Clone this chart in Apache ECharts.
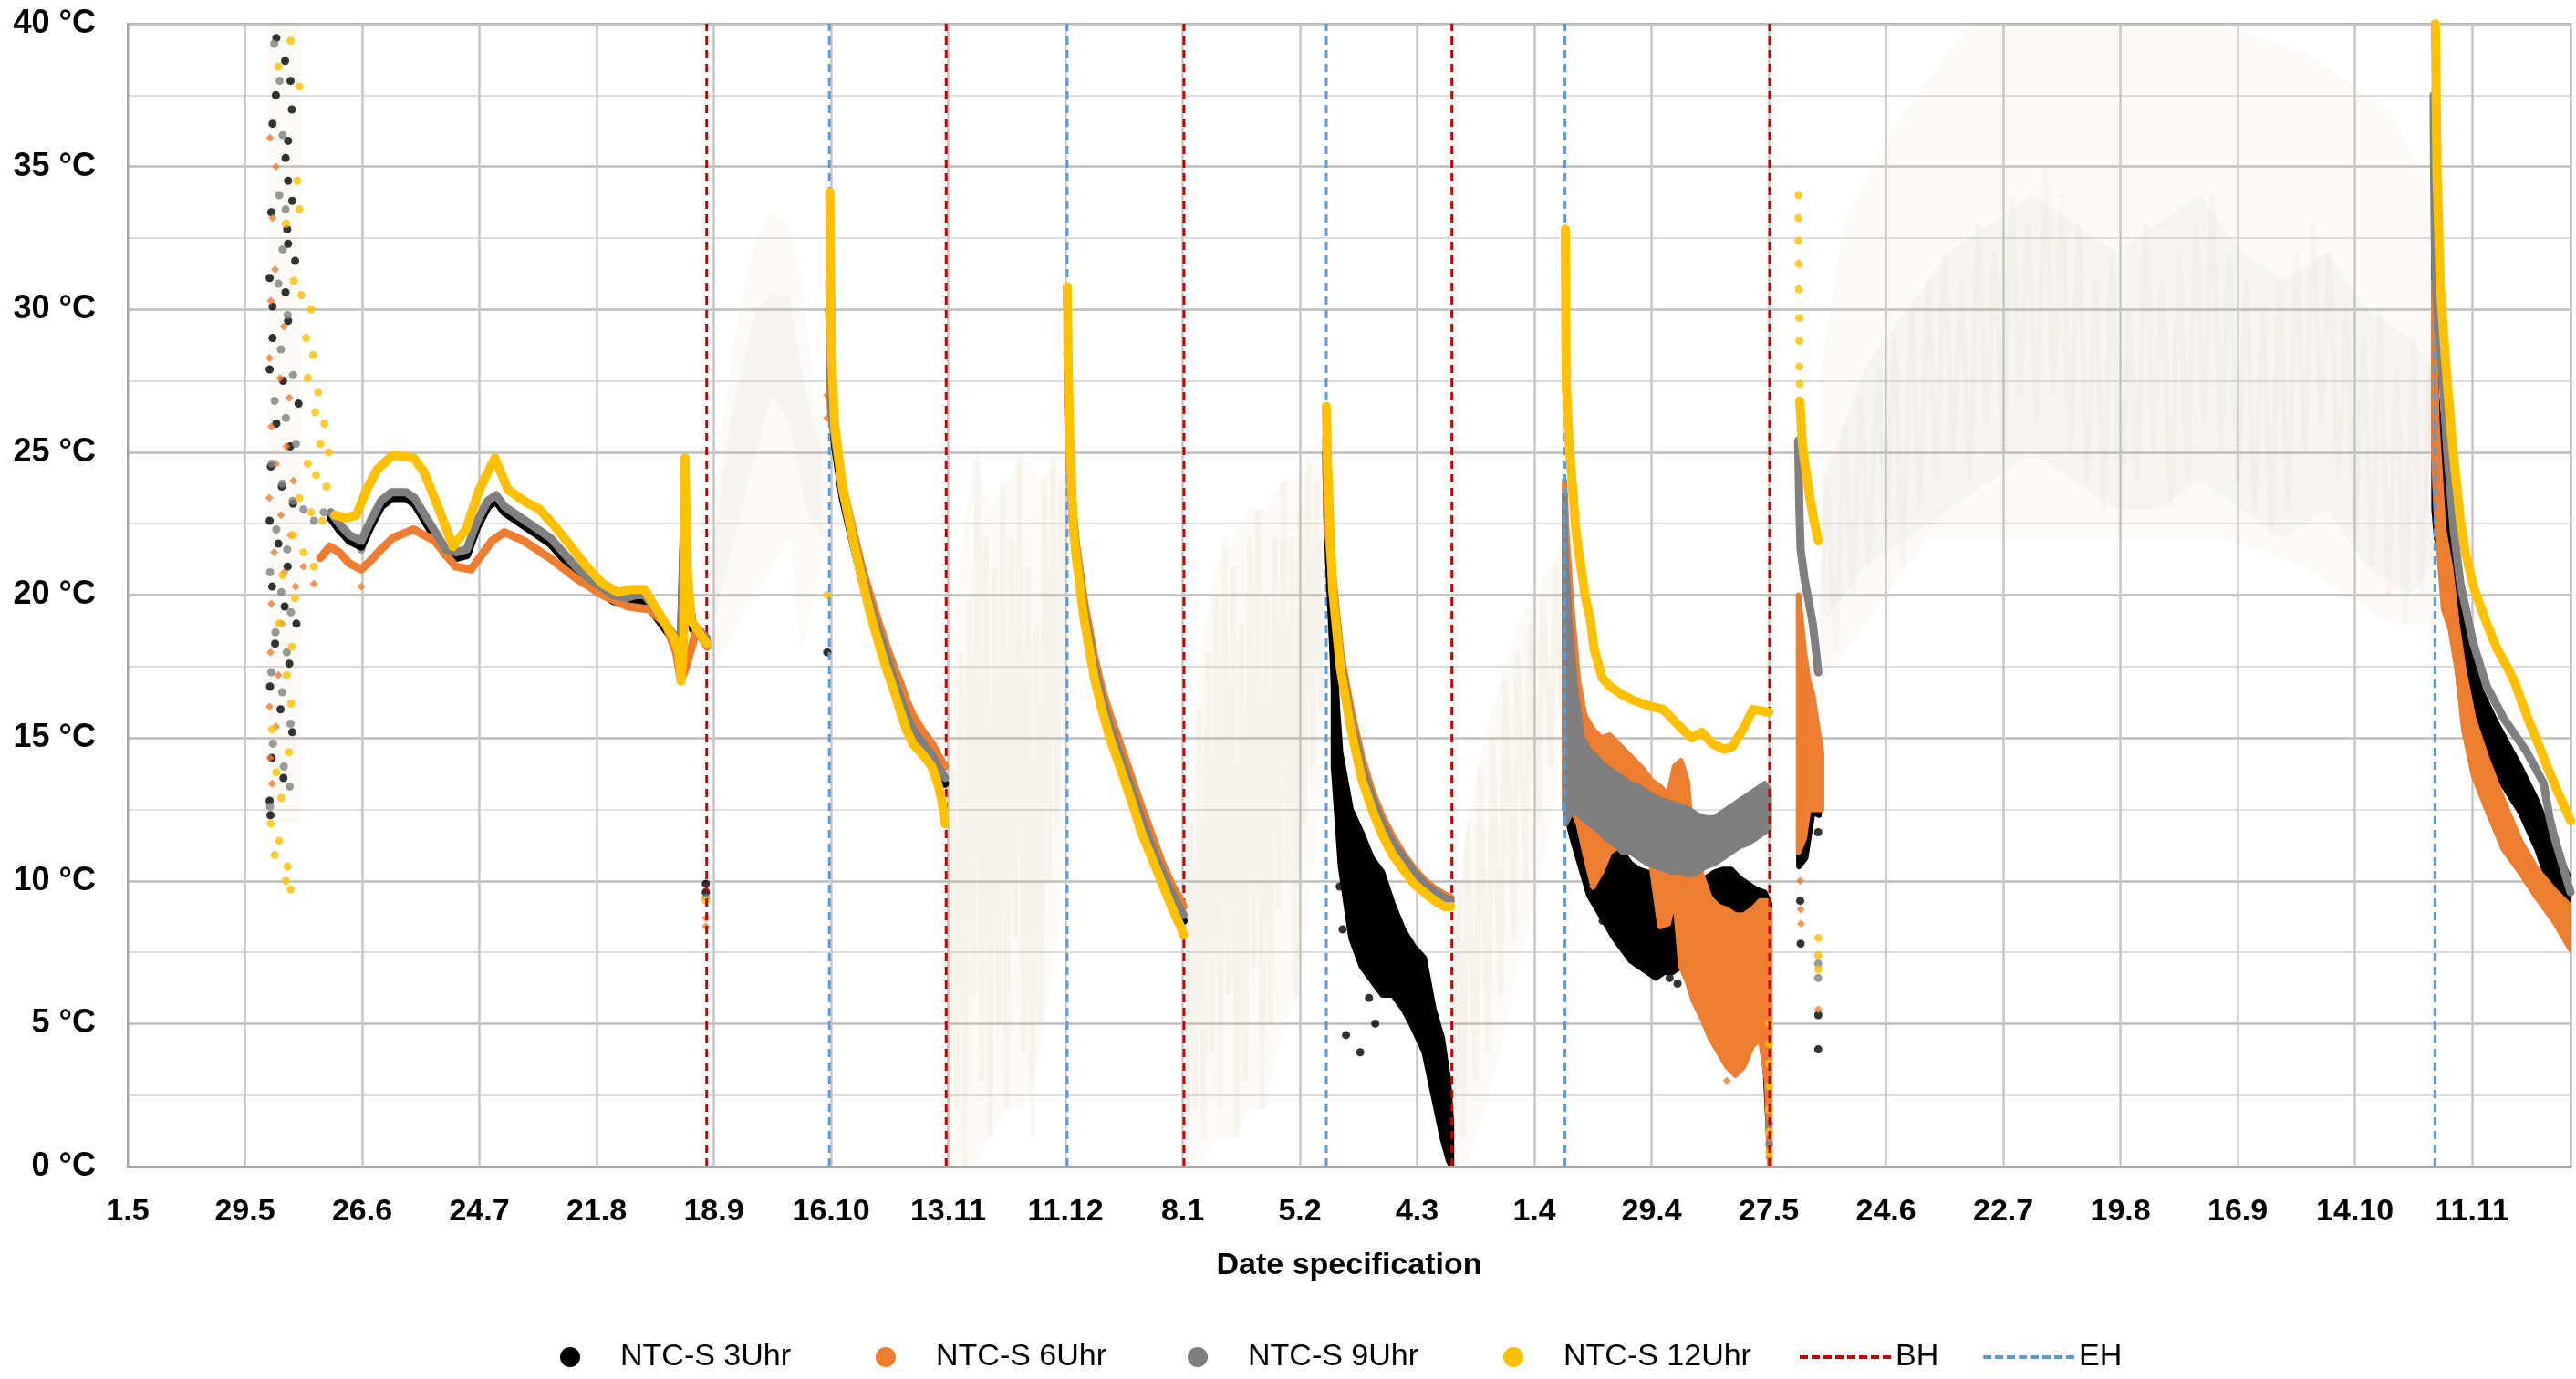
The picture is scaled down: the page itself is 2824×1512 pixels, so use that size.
<!DOCTYPE html>
<html><head><meta charset="utf-8">
<script src="https://cdn.jsdelivr.net/npm/echarts@6/dist/echarts.min.js"></script>
<style>html,body{margin:0;padding:0;background:#fff}#c{width:2824px;height:1512px}</style>
</head><body><div id="c"></div>
<script>
// ---------- axis labels ----------
const tickLabels = ['1.5','29.5','26.6','24.7','21.8','18.9','16.10','13.11','11.12','8.1','5.2','4.3','1.4','29.4','27.5','24.6','22.7','19.8','16.9','14.10','11.11'];
const seriesNames = ['NTC-S 3Uhr','NTC-S 6Uhr','NTC-S 9Uhr','NTC-S 12Uhr'];
// x = days since first tick (1.5), y = °C
const bhDays = [138.3, 195.5, 252.3, 316.3, 392.2];
const ehDays = [167.6, 224.4, 286.3, 343.3, 551.1];

// ---------- NTC-S 3Uhr (black) ----------
const black3Lines = [
 [[48.5,22.7],[50.5,22.3],[53,21.9],[55.8,21.7],[58,22.4],[60.5,23.1],[63,23.4],[66.5,23.4],[68.5,23.2],[71,22.6],[73.5,22.0],[76,21.4],[78.3,21.3],[81,21.4],[83.5,22.4],[86,23.1],[88,23.3],[90,22.9],[93,22.6],[97,22.2],[101,21.8],[104,21.3],[107,20.8],[110,20.4],[113,20.1],[116,19.8],[119,19.7],[121.5,19.8],[123.5,19.8],[125.5,19.4],[128,18.9],[130.5,18.4],[132,17.6],[133,22.8],[133.5,20.3],[135,18.8],[138.3,18.4]],
 [[167.6,30.0],[167.9,27.5],[168.9,25.3],[170.8,23.4],[173.3,21.8],[175.5,20.5],[177.1,19.6],[180.8,17.9],[184.6,16.2],[187.5,15.1],[190,14.6],[192.1,14.2],[195.2,13.4]],
 [[224.5,28.5],[225,25.0],[225.9,22.3],[228.4,19.3],[230.9,17.3],[234.6,15.2],[238.4,13.6],[242.1,12.0],[247.1,10.1],[249.6,9.3],[252.2,8.6]],
 [[286.3,25.0],[286.6,22.5],[287.2,20.5],[288.0,18.0],[288.6,16.0]]
];
const black3Bands = [
 [[288.0,14.0,18.0],[289.7,10.5,14.5],[292.2,8.0,12.5],[294.7,7.0,11.7],[297.2,6.5,10.8],[299.7,6.0,10.3],[302.2,6.0,9.2],[304.7,5.5,8.3],[307.2,4.8,7.7],[309.7,4.0,7.3],[312.0,2.4,5.5],[314.0,1.0,4.5],[315.5,0.2,3.0],[316.2,0.0,1.5]],
 [[343.3,12.5,23.5],[345,11.5,14.5],[347,10.5,13.5],[349,9.5,12.5],[351,9.0,11.8],[353,8.5,11.5],[355,8.0,11.2],[357,7.6,11.0],[359,7.2,10.6],[361,7.0,10.4],[363,6.8,10.3],[365,6.6,10.2],[367,6.8,10.4],[369,6.8,10.6],[371,7.0,10.5],[373,7.5,10.2],[375,8.0,10.1],[377,8.2,10.1],[379,8.5,10.3],[381,8.6,10.4],[383,8.7,10.4],[385,8.5,10.1],[387,8.0,9.9],[389,7.0,9.7],[391,4.0,9.6],[392.2,0.3,9.2]],
 [[399.2,10.5,13.5],[400.8,10.8,13.5],[402.5,12.4,14.5],[404.0,12.3,14.5]],
 [[550.9,23.0,33.0],[551.5,22.0,27.0],[553,21.0,24.5],[555.6,20.0,21.8],[558.8,17.0,18.8],[562,14.8,16.7],[565.9,13.7,15.5],[571.5,12.4,14.0],[575.5,11.1,12.8],[579.5,9.4,11.3],[583.5,9.1,10.0]]
];
const black3Dots = [
 [35.5,39.5],[37.6,38.7],[38.9,38.0],[35.4,37.5],[39.2,37.0],[34.6,36.5],[38.3,35.9],[37.7,35.3],[38.3,34.5],[39.3,33.8],[34.3,33.4],[38.1,32.8],[38.3,32.3],[40.0,31.7],[33.9,31.1],[37.7,30.6],[34.6,30.1],[38.3,29.6],[34.6,29.0],[33.9,27.9],[37.1,27.5],[40.8,26.7],[35.5,26.0],[38.8,25.2],[34.2,24.5],[36.8,23.8],[39.5,23.2],[33.9,22.6],[36.0,21.8],[38.2,21.0],[34.5,20.3],[37.5,19.6],[40.3,19.0],[35.2,18.3],[38.6,17.6],[34.0,16.8],[36.5,16.0],[39.3,15.2],[34.4,14.3],[37.2,13.6],[33.9,12.8],[34.1,12.3],
 [138.1,9.9],[138.1,9.6],[167.1,18.0],[291.0,4.6],[294.4,4.0],[289.5,9.8],[290.2,8.3],[296.5,5.9],[298,5.0],[357.5,8.4],[360,7.6],[362.5,7.0],[368.3,6.6],[370.2,6.4],[352.3,8.6],[399.5,9.3],[399.6,7.8],[403.8,11.7],[403.8,5.3],[403.8,4.1]
];

// ---------- NTC-S 6Uhr (orange) ----------
const orange6Lines = [
 [[46,21.3],[48.3,21.7],[50.5,21.5],[53,21.1],[55.8,20.9],[58,21.2],[60.5,21.6],[63.3,22.0],[68.3,22.3],[73.3,21.9],[78.3,21.0],[82,20.9],[87,21.9],[90,22.2],[94.6,21.9],[100.8,21.3],[107,20.6],[113.4,20.0],[119.6,19.6],[124.6,19.5],[128.4,19.0],[131,18.0],[132.1,17.0],[133.4,17.5],[135.9,18.8],[138.4,18.2]],
 [[167.6,28.0],[167.8,27.0],[168.1,26.3],[168.9,25.6],[170.8,23.8],[173.3,22.2],[175.5,20.9],[177.1,20.1],[179,19.2],[180.8,18.4],[182.7,17.6],[184.6,16.9],[186,16.3],[187.5,15.8],[190,15.2],[192.1,14.8],[193.5,14.4],[195.2,14.0]],
 [[224.5,27.0],[225,24.5],[225.9,22.7],[226.5,21.8],[228.4,19.8],[230.9,17.8],[232.7,16.7],[234.6,15.8],[236.5,15.0],[238.4,14.2],[240.2,13.4],[242.1,12.6],[244.6,11.6],[247.1,10.6],[249.6,9.8],[251.5,9.3],[252.2,9.1]],
 [[286.3,24.5],[286.6,22.5],[287.2,21.5],[287.8,20.5],[289.7,17.9],[292.2,15.9],[294.7,14.3],[297.2,13.1],[299.7,12.2],[302.2,11.5],[304.7,10.9],[307.2,10.4],[309.7,10.0],[312.2,9.7],[314.5,9.5],[316.0,9.4]]
];
const orange6Bands = [
 [[343.2,13.0,24.0],[343.8,12.5,22.0],[345,12.5,19.5],[346.5,12.0,17.0],[348,11.0,15.8],[350,9.8,15.3],[352,10.3,15.0],[354,11.0,15.1],[356,11.2,14.8],[358,11.0,14.5],[360,11.0,14.2],[362,11.0,13.9],[364,10.5,13.5],[366,8.4,13.3],[368,8.5,13.0],[369.5,9.5,14.0],[371,7.0,14.2],[372.5,6.5,13.5],[374,5.8,11.0],[376,5.2,10.2],[378,4.5,9.4],[380,4.0,9.1],[382,3.5,9.0],[384,3.2,8.8],[386,3.5,8.8],[388,4.2,9.0],[390,4.5,9.3],[391.5,3.0,9.3],[392.2,0.0,9.0]],
 [[399.1,11.0,20.0],[400.5,11.5,18.0],[401.5,12.5,17.0],[402.5,12.5,16.5],[403.5,12.5,15.5],[404.6,12.5,14.5]],
 [[550.8,25.0,31.0],[551.6,22.3,26.0],[553.2,19.5,22.3],[554.8,18.8,21.0],[556.4,17.4,19.0],[558,15.3,17.4],[560.3,13.7,15.7],[563.5,12.5,14.3],[567.5,11.1,12.8],[571.5,10.3,11.4],[575.5,9.4,10.4],[579.5,8.6,9.7],[583.5,7.6,9.1]]
];
const orange6Dots = [
 [34.0,36.0],[35.4,35.0],[34.6,33.2],[35.2,31.4],[34.2,30.3],[37.3,29.4],[33.9,28.3],[36.4,27.6],[38.6,26.9],[34.3,25.9],[37.9,25.2],[35.4,24.6],[39.6,24.0],[33.8,23.4],[36.6,22.8],[38.9,22.1],[35.0,21.5],[37.4,20.8],[40.1,20.3],[34.3,19.7],[36.8,19.0],[34.1,18.0],[36.0,17.2],[33.9,16.1],[35.4,15.4],[34.0,14.3],[34.5,13.4],[42,21.0],[44.5,20.4],[55.8,20.3],
 [138.1,8.7],[138.1,8.4],[167.1,27.0],[167.1,26.2],[392.1,0.3],[399.5,10.0],[399.6,9.0],[399.7,8.5],[403.8,5.5],[350.0,9.8],[351.0,10.3],[385.3,3.6],[382,3.0]
];

// ---------- NTC-S 9Uhr (gray) ----------
const gray9Lines = [
 [[48.5,22.9],[50.5,22.5],[53,22.1],[55.8,21.9],[58,22.6],[60.5,23.3],[63,23.6],[66.5,23.6],[68.5,23.4],[71,22.8],[73.5,22.2],[76,21.6],[78.3,21.5],[81,21.6],[83.5,22.6],[86,23.3],[88,23.5],[90,23.1],[93,22.8],[97,22.4],[101,22.0],[104,21.5],[107,21.0],[110,20.6],[113,20.3],[116,20.0],[119,19.9],[121.5,20.0],[123.5,20.0],[125.5,19.6],[128,19.1],[130.5,18.6],[132,17.8],[133,23.2],[133.5,20.5],[135,19.0],[138.3,18.5]],
 [[167.6,31.0],[167.8,28.5],[168.1,26.5],[168.9,25.5],[170.8,23.6],[173.3,22.0],[175.5,20.7],[177.1,19.8],[179,18.9],[180.8,18.1],[182.7,17.2],[184.6,16.4],[186,15.8],[187.5,15.3],[190,14.8],[192.1,14.4],[193.5,14.0],[195.2,13.6]],
 [[224.5,29.0],[224.8,26.5],[225.2,24.5],[225.9,22.5],[226.5,21.6],[228.4,19.5],[230.9,17.5],[232.7,16.4],[234.6,15.4],[236.5,14.6],[238.4,13.8],[240.2,13.0],[242.1,12.2],[244.6,11.2],[247.1,10.3],[249.6,9.5],[251.5,9.0],[252.2,8.8]],
 [[286.3,25.5],[286.6,23.5],[287.2,22.0],[287.8,20.5],[289.7,17.7],[292.2,15.6],[294.7,14.0],[297.2,12.9],[299.7,12.0],[302.2,11.3],[304.7,10.8],[307.2,10.3],[309.7,9.9],[312.2,9.6],[314.5,9.4],[316.0,9.3]],
 [[399.0,25.4],[399.3,23.0],[399.6,21.6],[400.5,20.6],[401.5,19.8],[402.5,19.0],[403.3,18.0],[403.8,17.3]],
 [[550.8,37.5],[550.9,35.0],[551.1,32.3],[551.6,30.1],[552.8,28.0],[554.0,25.1],[555.6,22.3],[557.2,20.4],[560.3,18.3],[563.5,16.8],[567.5,15.7],[573.1,14.5],[577.1,13.4],[578.5,12.2],[579.5,11.6],[581.5,10.6],[583.5,9.6]]
];
const gray9Bands = [
 [[343.2,18.5,23.5],[343.5,12.0,21.5],[344.5,12.3,19.0],[346,12.4,16.5],[347.5,12.2,15.0],[349,12.0,14.6],[351,11.8,14.3],[353,11.5,14.0],[355,11.3,13.8],[357,11.0,13.6],[359,11.0,13.4],[361,10.8,13.3],[363,10.6,13.1],[365,10.5,12.9],[367,10.4,12.8],[369,10.3,12.7],[371,10.3,12.6],[373,10.2,12.5],[375,10.3,12.3],[377,10.5,12.2],[379,10.6,12.2],[381,10.8,12.4],[383,11.0,12.6],[385,11.2,12.8],[387,11.3,13.0],[389,11.5,13.2],[391,11.7,13.4],[392.1,11.8,13.2]]
];
const gray9Dots = [
 [35.0,39.3],[36.3,38.0],[37.0,36.1],[36.2,34.0],[37.7,33.5],[37.0,32.1],[36.0,30.9],[38.2,29.8],[36.6,28.6],[39.5,27.7],[35.1,26.8],[37.8,26.2],[40.2,25.3],[34.4,24.6],[36.9,23.9],[39.4,23.3],[42.0,23.0],[44.5,22.6],[46.8,22.9],[35.5,22.3],[38.1,21.6],[34.0,20.8],[36.7,20.1],[39.0,19.4],[35.3,18.7],[38.0,18.0],[34.3,17.3],[36.9,16.6],[38.9,15.5],[34.7,14.8],[37.3,14.0],[38.7,13.3],[34.0,12.6],[55.8,21.6],
 [138.1,9.4],[392.1,1.5],[392.1,0.8],[403.8,6.6],[403.8,7.1]
];

// ---------- NTC-S 12Uhr (yellow) ----------
const yellow12Lines = [
 [[49.5,22.8],[52,22.7],[54.6,22.8],[57.1,23.7],[59.6,24.4],[63.3,24.9],[68.3,24.8],[70.8,24.3],[74.6,22.9],[77.7,21.7],[80.8,22.3],[84,23.7],[87.7,24.8],[90.8,23.7],[94.6,23.3],[98.4,23.0],[102.1,22.4],[105.9,21.7],[109.6,21.0],[113.4,20.4],[117.1,20.1],[120,20.2],[123.4,20.2],[125.5,19.7],[128,19.1],[130.5,18.5],[131.6,18.0],[132.2,17.0],[132.8,18.5],[133.1,24.8],[133.6,21.0],[134.6,19.1],[136.5,18.7],[138.4,18.3]],
 [[167.7,34.1],[167.9,31.0],[168.1,28.4],[168.9,25.9],[170.8,23.7],[173.3,21.9],[175.5,20.5],[177.1,19.5],[179,18.5],[180.8,17.6],[182.7,16.8],[184.6,15.9],[186,15.3],[187.5,14.8],[190,14.4],[192.1,14.0],[193.5,13.4],[194.5,12.8],[195.2,12.0]],
 [[224.4,30.8],[224.7,27.5],[225.0,25.5],[225.9,22.3],[226.5,21.4],[228.4,19.2],[230.9,17.1],[232.7,16.0],[234.6,15.0],[236.5,14.2],[238.4,13.4],[240.2,12.6],[242.1,11.7],[244.6,10.8],[247.1,9.9],[249.6,9.0],[251.5,8.4],[252.2,8.1]],
 [[286.3,26.6],[286.5,25.0],[287.2,22.3],[287.8,20.2],[289.7,17.4],[292.2,15.3],[294.7,13.6],[297.2,12.5],[299.7,11.6],[302.2,10.9],[304.7,10.4],[307.2,9.9],[309.7,9.6],[312.2,9.3],[314.5,9.1],[316.0,9.1]],
 [[343.4,32.8],[343.5,29.5],[343.6,27.4],[344.4,25.1],[345.9,22.3],[346.4,21.7],[348.2,19.9],[349.3,19.2],[350.3,18.1],[352.2,17.1],[354.1,16.8],[357.1,16.5],[360.0,16.3],[363.9,16.1],[366.8,16.0],[370.7,15.4],[373.6,15.0],[376.0,15.2],[378.5,14.8],[381.4,14.6],[383.3,14.7],[386.2,15.4],[388.2,16.0],[392.0,15.9]],
 [[399.4,26.8],[400.0,25.3],[400.8,24.4],[401.8,23.4],[402.8,22.6],[403.8,21.9]],
 [[551.2,40.0],[551.6,34.8],[552.4,30.8],[553.6,28.3],[555.2,25.4],[557.2,22.6],[558.4,21.5],[560.3,20.3],[562.0,19.6],[563.5,19.0],[566.0,18.1],[568.3,17.5],[570.0,17.0],[573.0,15.8],[575.5,14.9],[577.9,14.0],[580.5,13.1],[583.5,12.1]]
];
const yellow12Dots = [
 [38.9,39.4],[41.0,37.8],[36.0,38.5],[40.5,34.5],[41.0,33.5],[37.8,33.0],[39.7,31.0],[41.5,30.5],[43.8,30.0],[42.6,29.0],[44.3,28.4],[43.0,27.6],[45.5,27.1],[44.8,26.4],[47.0,26.0],[46.0,25.3],[48.0,25.0],[43.0,24.6],[45.0,24.2],[47.5,23.8],[41.0,23.4],[43.8,22.9],[46.5,22.6],[39.4,22.1],[42.0,21.5],[44.5,21.0],[37.0,20.7],[40.0,19.9],[36.2,19.0],[39.2,18.2],[38.0,17.2],[39.0,16.2],[34.5,15.3],[38.5,14.5],[35.5,13.8],[36.7,12.9],[34.2,12.0],[36.2,11.4],[35.1,10.9],[38.2,10.5],[37.8,10.0],[38.9,9.7],
 [138.1,9.3],[167.1,20.0],[392.1,5.0],[392.1,4.3],[392.1,3.6],[392.1,2.8],[392.1,2.0],[392.1,1.2],[392.1,0.5],
 [399.1,34.0],[399.1,33.2],[399.1,32.4],[399.2,31.6],[399.2,30.7],[399.3,29.7],[399.3,28.9],[399.3,28.0],[399.4,27.4],[403.8,8.0],[403.8,7.4],[403.8,6.9]
];

// ---------- faint background (pale haze: [day, low, high]) ----------
const faintBeigeBands = [
 [[33.3,12,40],[41.5,12,40]],
 [[138.5,17,20],[142,18,26],[146,19,30],[150,20,32.5],[154,21,33.5],[158,22,33],[161,18,31],[164,20,27],[167.2,22,25]],
 [[195.8,0,12],[198,0,20],[202,0,25],[206,1,23],[210,2,24],[214,2,25],[218,4,24],[222,8,25],[224.2,12,24]],
 [[252.6,0,12],[256,0,18],[260,1,21],[264,1,22],[268,2,23],[272,2,23],[276,5,24],[280,6,24],[284,12,25],[286,14,24]],
 [[316.6,0,8],[320,0,12],[324,2,15],[328,4,17],[332,7,19],[336,9,20],[340,12,21],[343,15,22]],
 [[404.5,17,28],[410,18,33],[420,20,36],[430,22,38],[440,22,40],[460,22,40],[480,22,40],[500,22,40],[520,21,39],[540,19,37],[550.8,19,34]]
];
const faintGrayBands = [
 [[140,19,22],[145,22,27],[150,25,30],[154,27,30.5],[158,26,30.5],[162,23,27],[166,22,25]],
 [[405,19,24],[415,21,28],[425,22,30],[435,23,32],[445,24,33],[455,25,34],[465,24,33],[475,23,32],[485,23,33],[495,24,34],[505,23,32],[515,22,31],[525,23,32],[535,21,30],[545,20,29],[550.5,21,28]]
];
const faintStreaks = [
 [[196,0],[197,14],[198,2],[199,18],[200,0],[201,20],[202,6],[203,25],[204,3],[205,22],[206,1],[207,21],[208,5],[209,24],[210,2],[211,22],[212,8],[213,25],[214,4],[215,21],[216,1],[217,19],[218,5],[219,24],[220,10],[221,25],[222,12],[223,24],[224,15]],
 [[253,0],[254,12],[255,2],[256,16],[257,1],[258,18],[259,4],[260,20],[261,2],[262,22],[263,6],[264,21],[265,1],[266,19],[267,3],[268,22],[269,7],[270,23],[271,2],[272,20],[273,5],[274,22],[275,9],[276,24],[277,10],[278,22],[279,6],[280,23],[281,12],[282,25],[283,14],[284,24],[285,16]],
 [[317,2],[318,10],[319,1],[320,12],[322,3],[323,14],[325,4],[326,15],[328,6],[329,17],[331,8],[332,18],[334,10],[335,19],[337,12],[338,20],[340,14],[341,21],[342.5,16]]
];
const faintStreaksWide = [
 [[404,19],[406,24],[408,18],[410,26],[412,20],[414,27],[416,21],[418,28],[420,22],[422,29],[424,21],[426,30],[428,23],[430,31],[432,24],[434,32],[436,25],[438,31],[440,24],[442,33],[444,26],[446,32],[448,25],[450,34],[452,27],[454,33],[456,26],[458,35],[460,27],[462,34],[464,25],[466,33],[468,24],[470,31],[472,23],[474,32],[476,22],[478,30],[480,24],[482,33],[484,25],[486,31],[488,23],[490,32],[492,24],[494,33],[496,26],[498,34],[500,25],[502,32],[504,24],[506,31],[508,23],[510,30],[512,22],[514,31],[516,23],[518,32],[520,25],[522,33],[524,26],[526,32],[528,24],[530,30],[532,22],[534,29],[536,21],[538,30],[540,20],[542,28],[544,19],[546,29],[548,20],[550,28]]
];

// ---------- build ----------
const FONT = 'Liberation Sans, Arial, sans-serif';
const colors = {'NTC-S 3Uhr':'#000000','NTC-S 6Uhr':'#ED7D31','NTC-S 9Uhr':'#7F7F7F','NTC-S 12Uhr':'#FFC000'};
function joinSegs(segs){ const out=[]; segs.forEach((s,i)=>{ if(i) out.push([s[0][0],'-']); s.forEach(p=>out.push(p)); }); return out; }
function lineSeries(name, segs, width){
  return {type:'line', name, data: joinSegs(segs), symbol:'none', showSymbol:false, connectNulls:false,
    color: colors[name], lineStyle:{color:colors[name], width:width, cap:'round', join:'round'}, animation:false};
}
function polySeries(name, bands, fill, stroke, lw){
  return {type:'custom', name, clip:true, animation:false, silent:true, color:fill,
    data: bands.map(b=>[b[0][0], b[0][1]]), encode:{x:0,y:1},
    renderItem:(params, api)=>{
      const b = bands[params.dataIndex];
      const top = b.map(p=>api.coord([p[0],p[2]]));
      const bot = b.slice().reverse().map(p=>api.coord([p[0],p[1]]));
      return {type:'polygon', shape:{points: top.concat(bot)}, style:{fill:fill, stroke:stroke, lineWidth:lw, lineJoin:'round'}};
    }};
}
function dotSeries(name, dots, sym){
  return {type:'scatter', name, data: dots, symbol: sym||'circle', symbolSize: 9, color: colors[name],
    itemStyle:{color:colors[name]}, animation:false};
}
function vlineData(days){ const out=[]; days.forEach(d=>{ out.push([d,0],[d,40],[d,'-']); }); return out; }

const series = [];
series.push(polySeries('bgBeige', faintBeigeBands, 'rgba(222,205,175,0.11)', 'rgba(0,0,0,0)', 0));
series.push(polySeries('bgGray', faintGrayBands, 'rgba(175,175,175,0.07)', 'rgba(0,0,0,0)', 0));
faintStreaks.forEach(s=>series.push({type:'line', name:'bgStreak', data:s, symbol:'none', silent:true, animation:false, lineStyle:{color:'rgba(185,160,120,0.07)', width:6}}));
faintStreaksWide.forEach(s=>series.push({type:'line', name:'bgStreak', data:s, symbol:'none', silent:true, animation:false, lineStyle:{color:'rgba(170,160,145,0.05)', width:6}}));
series.push({type:'line', name:'BH', data: vlineData(bhDays), symbol:'none', showSymbol:false, connectNulls:false, color:'#C00000', lineStyle:{color:'#C00000', width:3, type:[9,6]}, animation:false});
series.push({type:'line', name:'EH', data: vlineData(ehDays), symbol:'none', showSymbol:false, connectNulls:false, color:'#5B9BD5', lineStyle:{color:'#5B9BD5', width:3, type:[9,6]}, animation:false});

series.push(lineSeries('NTC-S 3Uhr', black3Lines, 9));
series.push(polySeries('NTC-S 3Uhr', black3Bands, colors['NTC-S 3Uhr'], colors['NTC-S 3Uhr'], 6));
series.push(dotSeries('NTC-S 3Uhr', black3Dots));
series.push(lineSeries('NTC-S 6Uhr', orange6Lines, 9));
series.push(polySeries('NTC-S 6Uhr', orange6Bands, colors['NTC-S 6Uhr'], colors['NTC-S 6Uhr'], 6));
series.push(dotSeries('NTC-S 6Uhr', orange6Dots, 'diamond'));
series.push(lineSeries('NTC-S 9Uhr', gray9Lines, 9));
series.push(polySeries('NTC-S 9Uhr', gray9Bands, colors['NTC-S 9Uhr'], colors['NTC-S 9Uhr'], 6));
series.push(dotSeries('NTC-S 9Uhr', gray9Dots));
series.push(lineSeries('NTC-S 12Uhr', yellow12Lines, 10));
series.push(dotSeries('NTC-S 12Uhr', yellow12Dots));

const dashIcon = 'path://M0,0h9v4h-9z M13,0h9v4h-9z M26,0h9v4h-9z M39,0h9v4h-9z M52,0h9v4h-9z M65,0h9v4h-9z M78,0h9v4h-9z M91,0h9v4h-9z';
const legendItems = [
  {name:'NTC-S 3Uhr', icon:'circle', left:609},
  {name:'NTC-S 6Uhr', icon:'circle', left:955},
  {name:'NTC-S 9Uhr', icon:'circle', left:1297},
  {name:'NTC-S 12Uhr', icon:'circle', left:1643},
  {name:'BH', icon:dashIcon, left:1968},
  {name:'EH', icon:dashIcon, left:2169}
];
const legends = legendItems.map(it=>({
  left: it.left, top:1466, itemWidth:100, itemHeight:22, symbolKeepAspect:true,
  textStyle:{fontSize:34, color:'#000', fontFamily:FONT},
  data:[{name:it.name, icon:it.icon}]
}));

const chart = echarts.init(document.getElementById('c'), null, {renderer:'canvas'});
chart.setOption({
  animation:false,
  backgroundColor:'#ffffff',
  textStyle:{fontFamily:FONT},
  grid:{left:140, right:6, top:26, bottom:233, show:true, borderColor:'#ABABAB', borderWidth:2, backgroundColor:'transparent'},
  legend: legends,
  xAxis:{
    type:'value', min:0, max:583.5, interval:28,
    name:'Date specification', nameLocation:'middle', nameGap:92,
    nameTextStyle:{fontFamily:FONT, fontWeight:'bold', fontSize:34, color:'#000'},
    axisLine:{show:true, onZero:false, lineStyle:{color:'#A6A6A6', width:3}},
    axisTick:{show:false},
    axisLabel:{margin:33, fontSize:34, fontWeight:'bold', color:'#000', fontFamily:FONT, showMaxLabel:false,
      formatter:(v)=>{ const i=Math.round(v/28); return Math.abs(v-i*28)<0.01 && tickLabels[i]!==undefined ? tickLabels[i] : ''; }},
    splitLine:{show:true, lineStyle:{color:'#C6C6C6', width:2.5}}
  },
  yAxis:{
    type:'value', min:0, max:40, interval:5,
    axisLine:{show:true, lineStyle:{color:'#A6A6A6', width:2}},
    axisTick:{show:false},
    axisLabel:{margin:35, fontSize:36, fontWeight:'bold', color:'#000', fontFamily:FONT, formatter:(v)=>v+' °C'},
    splitLine:{show:true, lineStyle:{color:'#BEBEBE', width:2.5}},
    minorTick:{show:false, splitNumber:2},
    minorSplitLine:{show:true, lineStyle:{color:'#DEDEDE', width:2}}
  },
  series
});
</script></body></html>
